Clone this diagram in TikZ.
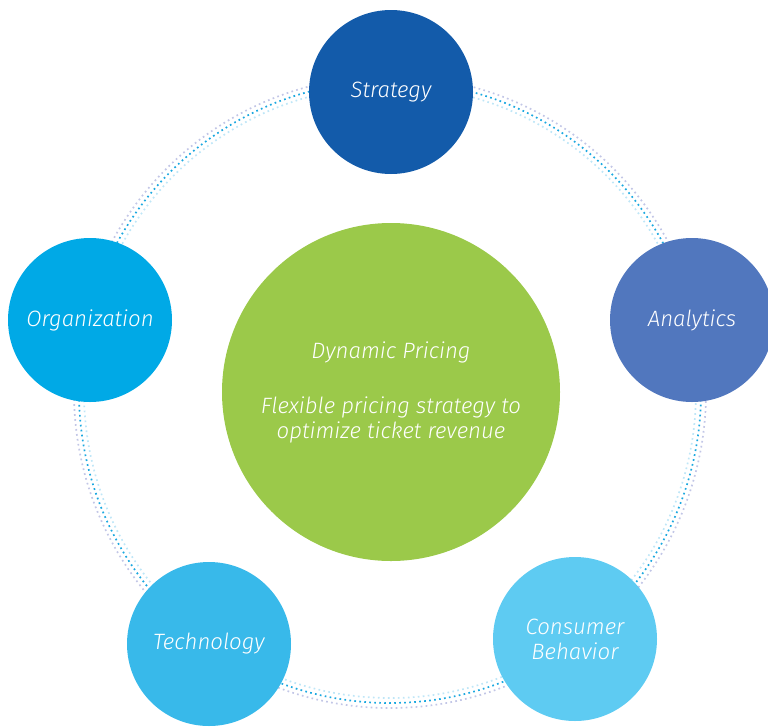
\documentclass[tikz,border=0pt]{standalone}
\usepackage{fontspec}
\setmainfont{Fira Sans}[UprightFont=* Light,ItalicFont=* Light Italic]
\definecolor{cstrat}{HTML}{135BAA}
\definecolor{canaly}{HTML}{5177BE}
\definecolor{corg}{HTML}{00A9E6}
\definecolor{ctech}{HTML}{38B9EA}
\definecolor{ccons}{HTML}{5ECBF2}
\definecolor{cgreen}{HTML}{9BC94A}
\definecolor{dotbright}{HTML}{1BA8E0}
\definecolor{dotlight}{HTML}{BFE6F7}
\definecolor{dotlav}{HTML}{C2C6E6}
\begin{document}
\begin{tikzpicture}[x=1pt,y=-1pt,
  sat/.style={circle,minimum size=164pt,inner sep=0pt,text=white,
    font=\fontsize{22.2}{25}\selectfont\itshape,align=center},
  hub/.style={circle,minimum size=338pt,inner sep=0pt,text=white,fill=cgreen,
    font=\fontsize{22.2}{25}\selectfont\itshape,align=center},
  ringdots/.style={line width=1.7pt,dash pattern=on 1.7pt off 3.3pt}]
\useasboundingbox (0,0) rectangle (768,726);
\coordinate (rc) at (390,392);
\draw[ringdots,dotlav] (rc) circle[radius=316pt];
\draw[ringdots,dotlight] (rc) circle[radius=306pt];
\draw[ringdots,dotbright] (rc) circle[radius=311pt];
\node[hub] (hub) at (391,392) {Dynamic Pricing\\[30pt]Flexible pricing strategy to\\optimize ticket revenue};
\node[sat,fill=cstrat] (strat) at (391,92) {Strategy};
\node[sat,fill=canaly] (analy) at (692,320) {Analytics};
\node[sat,fill=corg] (org) at (90,320) {Organization};
\node[sat,fill=ctech] (tech) at (209,644) {Technology};
\node[sat,fill=ccons] (cons) at (575,639) {Consumer\\Behavior};
\end{tikzpicture}
\end{document}
